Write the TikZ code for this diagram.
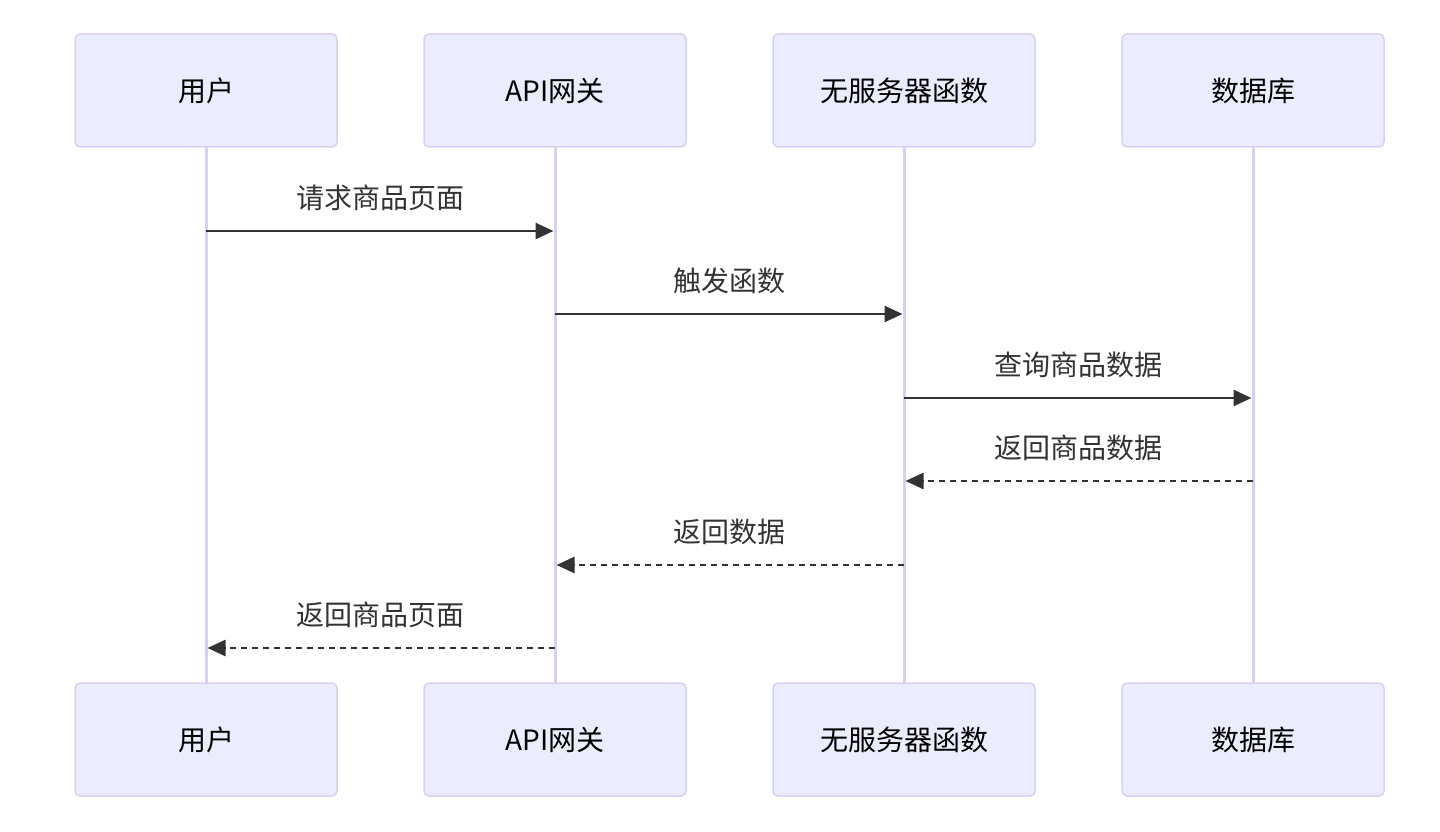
\documentclass[tikz,border=0pt]{standalone}
\usepackage{fontspec}
\setmainfont{Noto Sans CJK SC}
\usetikzlibrary{arrows.meta}
\usetikzlibrary{positioning}
\definecolor{ActorFill}{HTML}{ECECFF}
\definecolor{ActorLine}{HTML}{D9CFF5}
\definecolor{MsgLine}{HTML}{333333}

\begin{document}
\begin{tikzpicture}[x=1pt, y=-1pt,
 actor/.style = {draw=ActorLine, fill=ActorFill, line width=1.5pt, rounded corners=5pt,
                 minimum width=262pt, minimum height=113pt, outer sep=0pt,
                 font=\fontsize{28}{32}\selectfont, text=black},
 life/.style  = {draw=ActorLine, line width=3pt},
 msg/.style   = {draw=MsgLine, line width=2.5pt, shorten >=1.5pt,
                 -{Triangle[length=18pt,width=16pt]}},
 reply/.style = {msg, dash pattern=on 6pt off 5pt},
 lbl/.style   = {font=\fontsize{28}{32}\selectfont, text=MsgLine, yshift=33pt},
                        ]
    \useasboundingbox (0,0) rectangle (1440,832);

    % participants, top row
    \node [actor] (user) at (206,90.5) {用户};
    \node [actor, right=87pt of user] (gw) {API网关};
    \node [actor, right=87pt of gw] (fn) {无服务器函数};
    \node [actor, right=87pt of fn] (db) {数据库};

    % participants, bottom row
    \node [actor, below=536pt of user] (userB) {用户};
    \node [actor, below=536pt of gw] (gwB) {API网关};
    \node [actor, below=536pt of fn] (fnB) {无服务器函数};
    \node [actor, below=536pt of db] (dbB) {数据库};

    \draw [life] (user) -- (userB);
    \draw [life] (gw) -- (gwB);
    \draw [life] (fn) -- (fnB);
    \draw [life] (db) -- (dbB);

    % messages
    \draw [msg] (user |- 0,231) -- node [lbl] {请求商品页面} (gw |- 0,231);
    \draw [msg] (gw |- 0,314) -- node [lbl] {触发函数} (fn |- 0,314);
    \draw [msg] (fn |- 0,398) -- node [lbl] {查询商品数据} (db |- 0,398);
    \draw [reply] (db |- 0,481) -- node [lbl] {返回商品数据} (fn |- 0,481);
    \draw [reply] (fn |- 0,565) -- node [lbl] {返回数据} (gw |- 0,565);
    \draw [reply] (gw |- 0,648) -- node [lbl] {返回商品页面} (user |- 0,648);

\end{tikzpicture}
\end{document}
